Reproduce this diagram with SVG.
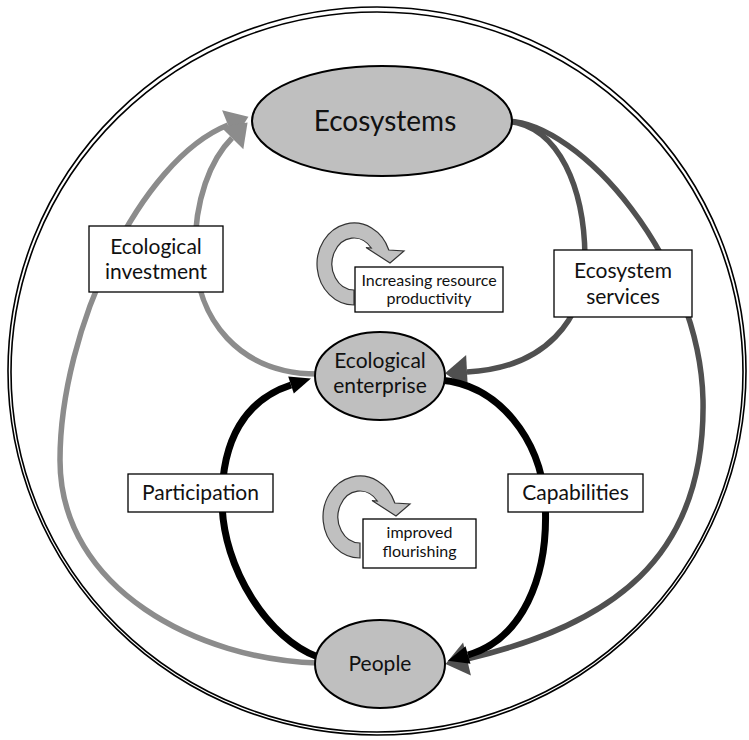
<svg xmlns="http://www.w3.org/2000/svg" width="749" height="740" viewBox="0 0 749 740">
<style>
text{font-family:Lato,"Open Sans","Liberation Sans",sans-serif;fill:#111;text-anchor:middle}
.node{fill:#bfbfbf;stroke:#000;stroke-width:2}
.box{fill:#fff;stroke:#000;stroke-width:1.3}
.ring{fill:#c0c0c0;stroke:#333;stroke-width:1.2;stroke-linejoin:miter}
.orbit{fill:none;stroke:#000;stroke-width:1.6}
.lg{fill:none;stroke:#8c8c8c;stroke-width:5.5}
.dg{fill:none;stroke:#505050;stroke-width:5.5}
.bk{fill:none;stroke:#000;stroke-width:7}
.lbl{font-size:21px}
.sm{font-size:16px}
</style>
<defs>
<marker id="aG" markerUnits="userSpaceOnUse" markerWidth="40" markerHeight="40" refX="0" refY="0" orient="auto" overflow="visible"><path d="M0,-16 L22,0 L0,16 Z" fill="#8c8c8c"/></marker>
<marker id="aD" markerUnits="userSpaceOnUse" markerWidth="40" markerHeight="40" refX="0" refY="0" orient="auto" overflow="visible"><path d="M0,-17 L22,0 L0,17 Z" fill="#505050"/></marker>
<marker id="aK" markerUnits="userSpaceOnUse" markerWidth="40" markerHeight="40" refX="0" refY="0" orient="auto" overflow="visible"><path d="M0,-9 L21,0 L0,9 Z" fill="#000"/></marker>
<path id="cyc" d="M0,41 A37,41 0 1 1 34.8,-14 L50,-13 L36,-1 L12,-16.5 L17.3,-16 A22,26 0 1 0 0,26 Z"/>
</defs>

<g id="boundary">
<ellipse class="orbit" cx="377" cy="371" rx="369" ry="364"/>
<ellipse class="orbit" cx="377" cy="372" rx="366" ry="360"/>
</g>

<g id="connectors">
<path class="lg" d="M318,663 C200,660 60,590 60,460 C60,330 140,160 228,125" marker-end="url(#aG)"/>
<path class="lg" d="M318,374 C240,374 195,320 195,250 C195,200 210,160 232,138" marker-end="url(#aG)"/>
<path class="dg" d="M506,121 C580,122 700,260 703,400 C706,560 610,625 467,659" marker-end="url(#aD)"/>
<path class="dg" d="M506,121 C560,125 585,190 585,260 C585,320 545,368 467,372" marker-end="url(#aD)"/>
<path class="bk" d="M318,657 C270,640 222,570 222,500 C222,440 245,400 291,385" marker-end="url(#aK)"/>
<path class="bk" d="M440,380 C500,385 540,440 545,500 C550,580 520,640 468,655" marker-end="url(#aK)"/>
</g>

<g id="cycle-resource">
<use href="#cyc" class="ring" transform="translate(354,264)"/>
<rect class="box" x="355" y="267" width="148" height="45"/>
<text class="sm" x="429" y="286">Increasing resource</text>
<text class="sm" x="429" y="304">productivity</text>
</g>

<g id="cycle-flourishing">
<use href="#cyc" class="ring" transform="translate(360,517)"/>
<rect class="box" x="363" y="519" width="113" height="49"/>
<text class="sm" x="419.5" y="538">improved</text>
<text class="sm" x="419.5" y="557">flourishing</text>
</g>

<g id="ecological-investment">
<rect class="box" x="89" y="226" width="134" height="66"/>
<text class="lbl" x="156" y="254">Ecological</text>
<text class="lbl" x="156" y="279">investment</text>
</g>

<g id="ecosystem-services">
<rect class="box" x="554" y="250" width="138" height="67"/>
<text class="lbl" x="623" y="278">Ecosystem</text>
<text class="lbl" x="623" y="304">services</text>
</g>

<g id="participation">
<rect class="box" x="128" y="474" width="145" height="38"/>
<text class="lbl" x="200.5" y="500">Participation</text>
</g>

<g id="capabilities">
<rect class="box" x="508" y="474" width="135" height="38"/>
<text class="lbl" x="575.5" y="500">Capabilities</text>
</g>

<g id="ecosystems">
<ellipse class="node" cx="382" cy="121" rx="130" ry="55"/>
<text x="385" y="131" font-size="28">Ecosystems</text>
</g>

<g id="ecological-enterprise">
<ellipse class="node" cx="380" cy="376" rx="65" ry="44"/>
<text class="lbl" x="380" y="368">Ecological</text>
<text class="lbl" x="380" y="393">enterprise</text>
</g>

<g id="people">
<ellipse class="node" cx="380" cy="664" rx="65" ry="44"/>
<text class="lbl" x="380" y="671">People</text>
</g>
</svg>
